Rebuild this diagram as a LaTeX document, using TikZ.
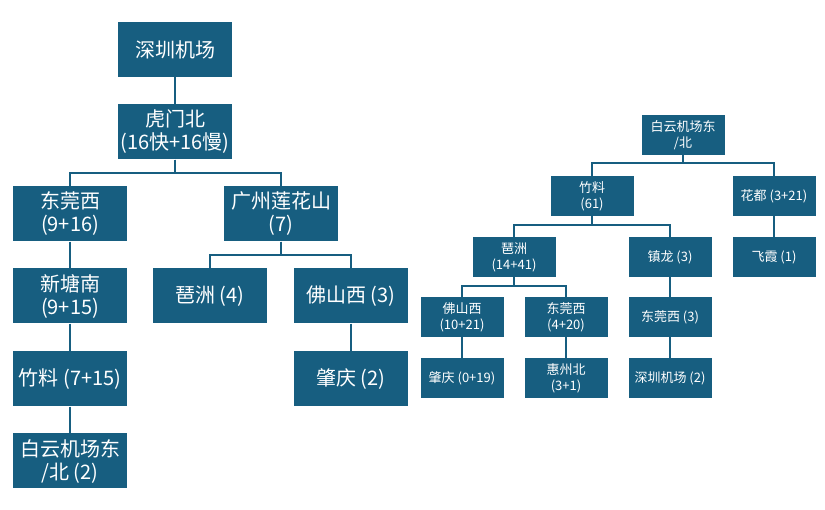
\documentclass[tikz,border=0pt]{standalone}
\usepackage{fontspec}
\setmainfont{Noto Sans CJK SC}
\definecolor{boxblue}{HTML}{175E80}
\tikzset{
  big/.style={fill=boxblue, text=white, minimum width=114pt, minimum height=55pt, inner sep=1pt, align=center, font=\fontsize{20}{23}\selectfont},
  small/.style={fill=boxblue, text=white, minimum width=83pt, minimum height=40pt, inner sep=1pt, align=center, font=\fontsize{13}{16}\selectfont},
  link/.style={draw=boxblue, line width=1.8pt}
}
\begin{document}
\begin{tikzpicture}[x=1pt, y=-1pt]
				\useasboundingbox (0,0) rectangle (825,510);
				% left tree
				\node[big] (szjc) at (175, 49.5) {深圳机场};
				\node[big] (hmb) at (175, 132) {虎门北\\(16快+16慢)};
				\node[big] (dgx) at (70, 214) {东莞西\\(9+16)};
				\node[big] (gzlhs) at (281, 214) {广州莲花山\\(7)};
				\node[big] (xtn) at (70, 296) {新塘南\\(9+15)};
				\node[big] (pz) at (210, 296) {琶洲 (4)};
				\node[big] (fsx) at (351, 296) {佛山西 (3)};
				\node[big] (zl) at (70, 379) {竹料 (7+15)};
				\node[big] (zq) at (351, 379) {肇庆 (2)};
				\node[big] (byjc) at (70, 461) {白云机场东\\/北 (2)};
				\draw[link] (szjc) -- (hmb);
				\draw[link] (hmb.south) -- ++(0,13) -| (dgx.north);
				\draw[link] (hmb.south) -- ++(0,13) -| (gzlhs.north);
				\draw[link] (gzlhs.south) -- ++(0,13) -| (pz.north);
				\draw[link] (gzlhs.south) -- ++(0,13) -| (fsx.north);
				\draw[link] (dgx) -- (xtn);
				\draw[link] (xtn) -- (zl);
				\draw[link] (zl) -- (byjc);
				\draw[link] (fsx) -- (zq);
				% right tree
				\node[small] (rbyjc) at (683, 135) {白云机场东\\/北};
				\node[small] (rzl) at (592, 196) {竹料\\(61)};
				\node[small] (hd) at (774, 196) {花都 (3+21)};
				\node[small] (rpz) at (514, 257) {琶洲\\(14+41)};
				\node[small] (zhl) at (670, 257) {镇龙 (3)};
				\node[small] (fx) at (774, 257) {飞霞 (1)};
				\node[small] (rfsx) at (462, 317) {佛山西\\(10+21)};
				\node[small] (rdgx) at (566, 317) {东莞西\\(4+20)};
				\node[small] (rdgx3) at (670, 317) {东莞西 (3)};
				\node[small] (rzq) at (462, 378) {肇庆 (0+19)};
				\node[small] (hzb) at (566, 378) {惠州北\\(3+1)};
				\node[small] (rszjc) at (670, 378) {深圳机场 (2)};
				\draw[link] (rbyjc.south) -- ++(0,8) -| (rzl.north);
				\draw[link] (rbyjc.south) -- ++(0,8) -| (hd.north);
				\draw[link] (rzl.south) -- ++(0,9) -| (rpz.north);
				\draw[link] (rzl.south) -- ++(0,9) -| (zhl.north);
				\draw[link] (rpz.south) -- ++(0,9) -| (rfsx.north);
				\draw[link] (rpz.south) -- ++(0,9) -| (rdgx.north);
				\draw[link] (hd) -- (fx);
				\draw[link] (zhl) -- (rdgx3);
				\draw[link] (rfsx) -- (rzq);
				\draw[link] (rdgx) -- (hzb);
				\draw[link] (rdgx3) -- (rszjc);
			\end{tikzpicture}
\end{document}
